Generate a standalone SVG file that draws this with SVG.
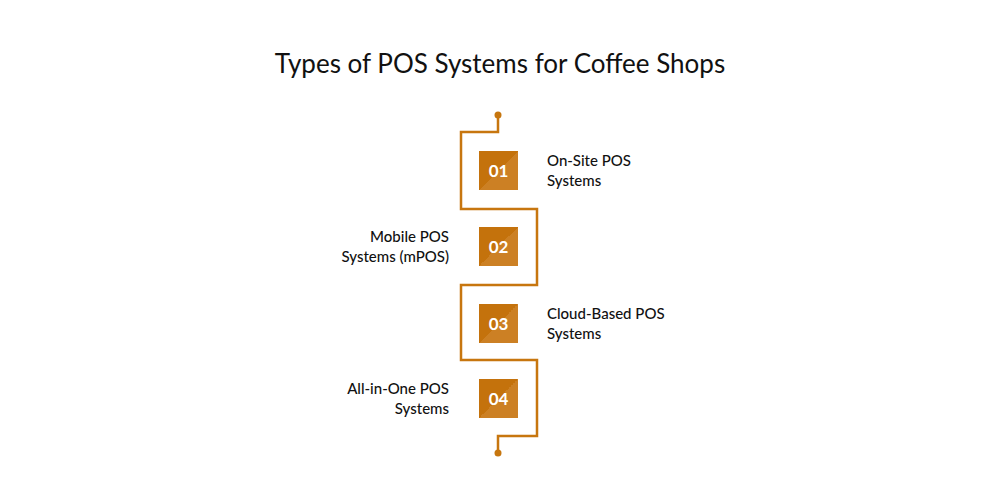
<svg xmlns="http://www.w3.org/2000/svg" width="1000" height="500" viewBox="0 0 1000 500">
<style>
.t{font-family:Lato,"Open Sans",sans-serif;fill:#111;}
.lbl{font-size:15px;font-weight:500}
.num{font-family:Lato,sans-serif;font-size:17px;font-weight:bold;fill:#fff;text-anchor:middle}
</style>
<defs>
<linearGradient id="g" x1="0" y1="0" x2="1" y2="1"><stop offset="0.5" stop-color="#c4720c"/><stop offset="0.5" stop-color="#cc8024"/></linearGradient>
</defs>
<rect width="1000" height="500" fill="#fff"/>
<text class="t" x="500" y="73" font-size="26" text-anchor="middle">Types of POS Systems for Coffee Shops</text>
<g id="connectors" fill="none" stroke="#c7760f" stroke-width="2.5">
<path d="M498 115 V132 H461 V209 H537 V285 H461 V360 H537 V436 H498 V453"/>
<circle cx="498" cy="115" r="3.5" fill="#c7760f" stroke="none"/>
<circle cx="498" cy="453" r="3.5" fill="#c7760f" stroke="none"/>
</g>
<g id="n1"><rect x="479" y="151" width="39" height="39" fill="url(#g)"/><text class="num" x="498.5" y="176.5">01</text>
<text class="t lbl" x="547" y="166">On-Site POS</text><text class="t lbl" x="547" y="186">Systems</text></g>
<g id="n2"><rect x="479" y="227" width="39" height="39" fill="url(#g)"/><text class="num" x="498.5" y="252.5">02</text>
<text class="t lbl" x="449" y="242" text-anchor="end">Mobile POS</text><text class="t lbl" x="449" y="262" text-anchor="end">Systems (mPOS)</text></g>
<g id="n3"><rect x="479" y="304" width="39" height="39" fill="url(#g)"/><text class="num" x="498.5" y="329.5">03</text>
<text class="t lbl" x="547" y="319">Cloud-Based POS</text><text class="t lbl" x="547" y="339">Systems</text></g>
<g id="n4"><rect x="479" y="379" width="39" height="39" fill="url(#g)"/><text class="num" x="498.5" y="404.5">04</text>
<text class="t lbl" x="449" y="394" text-anchor="end">All-in-One POS</text><text class="t lbl" x="449" y="414" text-anchor="end">Systems</text></g>
</svg>
